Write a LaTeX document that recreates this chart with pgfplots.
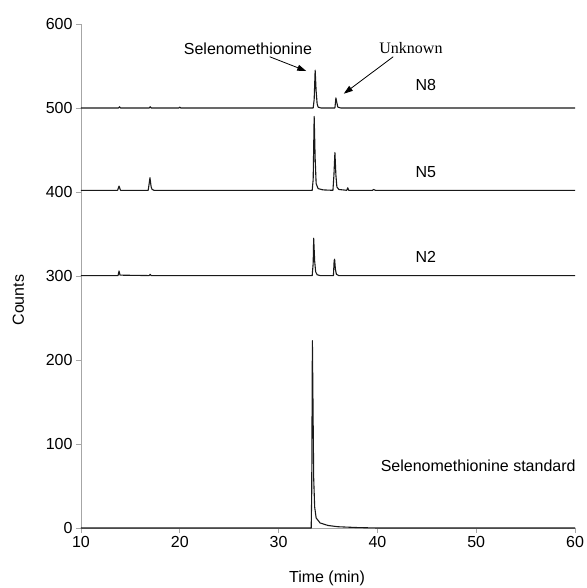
\documentclass[border=0pt]{standalone}
\usepackage{fontspec}
\setmainfont{Liberation Sans}
\newfontfamily\timesfont{Liberation Serif}
\usepackage{pgfplots}
\pgfplotsset{compat=1.18}
\usetikzlibrary{arrows.meta}

\newcommand{\lbl}{\fontsize{16}{19}\selectfont}
\tikzset{trace/.style={black!90, line width=1.1pt, line join=round}}

\begin{document}
\begin{tikzpicture}
\useasboundingbox (-81pt,-60pt) rectangle (505pt,528pt);
\begin{axis}[
  at={(0,0)}, anchor=south west,
  scale only axis, width=494pt, height=504pt,
  xmin=10, xmax=60, ymin=0, ymax=600,
  axis x line*=bottom, axis y line*=left,
  axis line style={-, gray!70, line width=0.8pt},
  xtick={10,20,...,60}, ytick={0,100,...,600},
  tick align=outside, major tick length=5pt,
  tick style={gray!70, line width=0.8pt},
  /pgf/number format/assume math mode=true,
  ticklabel style={font=\lbl},
  xlabel={Time (min)}, ylabel={Counts},
  label style={font=\lbl},
  xlabel style={at={(axis description cs:0.498,-0.099)}, anchor=center},
  ylabel style={at={(axis description cs:-0.127,0.452)}, anchor=center},
  clip=false
]
% N8
\addplot[trace] coordinates {(10,500) (13.8,500) (13.9,501.5) (14.0,500) (16.9,500) (17.0,501.5) (17.1,500)
 (19.9,500) (20.0,501) (20.1,500) (33.5,500) (33.6,510) (33.7,545) (33.8,520) (33.9,505) (34.0,501)
 (34.3,500) (35.7,500) (35.8,512) (35.9,506) (36.0,501) (36.3,500) (60,500)};
% N5
\addplot[trace] coordinates {(10,402) (13.7,402) (13.85,407) (14.0,402) (16.8,402) (16.9,410) (16.98,417)
 (17.1,406) (17.2,403) (17.4,402) (33.4,402) (33.5,415) (33.6,490) (33.7,440) (33.8,410) (34.0,404)
 (34.5,402.5) (35.5,402) (35.6,420) (35.7,447) (35.8,420) (35.9,406) (36.1,403) (36.9,402) (37.0,405)
 (37.1,402) (39.5,402) (39.6,403) (39.8,402) (60,402)};
% N2
\addplot[trace] coordinates {(10,300.5) (13.75,300.5) (13.85,306) (13.95,301) (16.9,300.5) (17.0,302)
 (17.1,300.5) (33.4,300.5) (33.5,315) (33.55,345) (33.65,318) (33.75,305) (33.9,301.5) (34.2,300.5)
 (35.55,300.5) (35.62,318) (35.67,320) (35.75,308) (35.85,302) (36.1,300.5) (60,300.5)};
% Selenomethionine standard
\addplot[trace] coordinates {(10,0) (33.3,0) (33.35,40) (33.42,223) (33.48,150) (33.55,60) (33.65,25)
 (33.8,12) (34.2,6) (35,3) (36,1.5) (38,0.5) (40,0) (60,0)};

\node[font=\lbl] at (axis cs:26.9,571) {Selenomethionine};
\node[font=\timesfont\lbl] at (axis cs:43.4,571) {Unknown};
\draw[-{Triangle[length=9pt,width=6pt]}, line width=0.8pt] (axis cs:29.1,561) -- (axis cs:32.8,544);
\draw[-{Triangle[length=9pt,width=6pt]}, line width=0.8pt] (axis cs:41.6,561) -- (axis cs:36.6,517);
\node[font=\lbl] at (axis cs:44.9,527) {N8};
\node[font=\lbl] at (axis cs:44.9,424) {N5};
\node[font=\lbl] at (axis cs:44.9,322.6) {N2};
\node[font=\lbl] at (axis cs:50.2,73.8) {Selenomethionine standard};
\end{axis}
\end{tikzpicture}
\end{document}
